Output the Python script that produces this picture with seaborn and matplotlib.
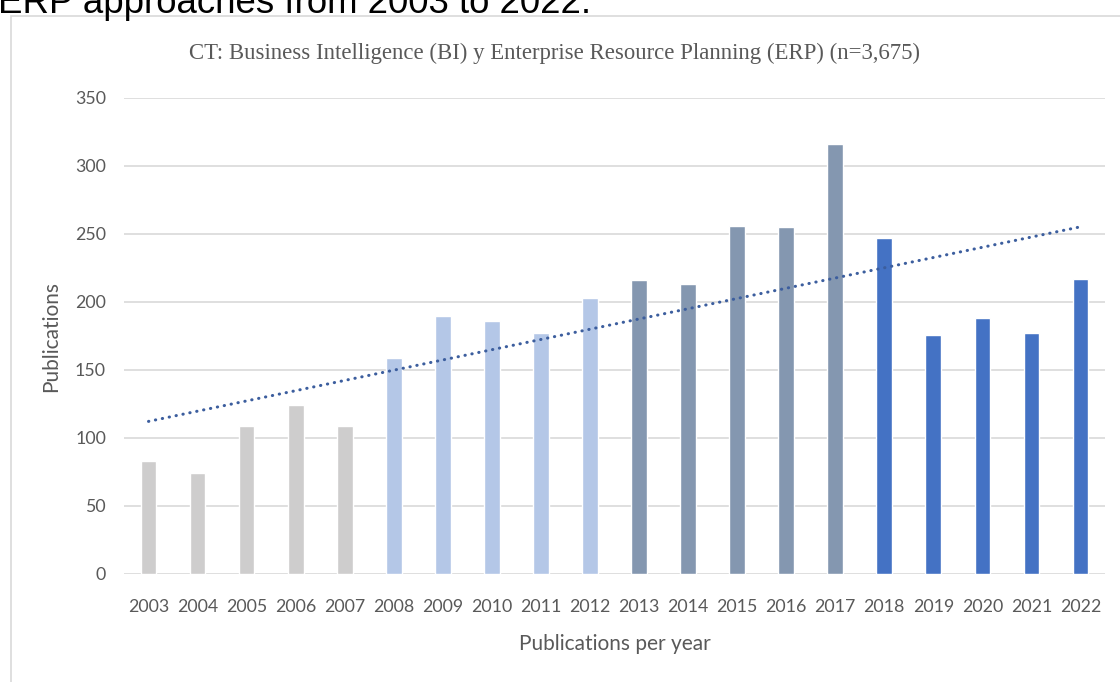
import numpy as np
import pandas as pd
import seaborn as sns
import matplotlib.pyplot as plt
from matplotlib.patches import Rectangle

years = [str(y) for y in range(2003, 2023)]
pubs = [83, 74, 109, 124, 109,
        159, 190, 186, 177, 203,
        216, 213, 256, 255, 316,
        247, 176, 188, 177, 217]
periods = ['P1'] * 5 + ['P2'] * 5 + ['P3'] * 5 + ['P4'] * 5
period_colors = {'P1': '#CECDCD', 'P2': '#B4C7E7', 'P3': '#8497B0', 'P4': '#4472C4'}

title = 'CT: Business Intelligence (BI) y Enterprise Resource Planning (ERP) (n=3,675)'
caption = 'ERP approaches from 2003 to 2022.'

df = pd.DataFrame({'year': years, 'pubs': pubs, 'period': periods})

sns.set_theme(style='white')
plt.rcParams['font.family'] = ['Lato', 'DejaVu Sans']

fig = plt.figure(figsize=(11.2, 6.82), dpi=100)
ax = fig.add_axes([124 / 1120, 1 - 574 / 682, 981 / 1120, 476 / 682])

sns.barplot(data=df, x='year', y='pubs', hue='period', palette=period_colors,
            dodge=False, width=0.32, legend=False, ax=ax, saturation=1)

# linear trend line (like the Excel one)
xs = np.arange(len(pubs))
coef = np.polyfit(xs, pubs, 1)
ax.plot(xs, np.polyval(coef, xs), color='#3C5E9E', lw=2.2,
        linestyle=(0, (0.1, 2.2)), dash_capstyle='round', zorder=3)

ax.set_ylim(0, 350)
ax.set_xlim(-0.5, 19.5)
ax.set_yticks(range(0, 351, 50))
ax.grid(axis='y', color='#D9D9D9', lw=1.2)
ax.set_axisbelow(True)
for s in ax.spines.values():
    s.set_visible(False)
ax.tick_params(axis='y', length=0, pad=13, labelsize=12.8, labelcolor='#595959')
ax.tick_params(axis='x', length=0, pad=18, labelsize=12.8, labelcolor='#595959')
ax.set_xlabel('Publications per year', fontsize=15, color='#595959', labelpad=14)
ax.set_ylabel('Publications', fontsize=15, color='#595959', labelpad=10)

fig.text(0.4955, 1 - 53 / 682, title, ha='center', va='center',
         fontsize=16.4, color='#595959', family='Liberation Serif')

# chart frame and cropped caption from the source page
fig.add_artist(Rectangle((11 / 1120, -0.1), 1.2, 1 - 16 / 682 + 0.1,
                         transform=fig.transFigure, fill=False,
                         edgecolor='#D9D9D9', lw=1.2))
fig.text(-0.002, 1 - 13 / 682, caption, ha='left', va='baseline',
         fontsize=26.4, color='black', family='Liberation Sans')

fig.savefig('out.png', dpi=100)
